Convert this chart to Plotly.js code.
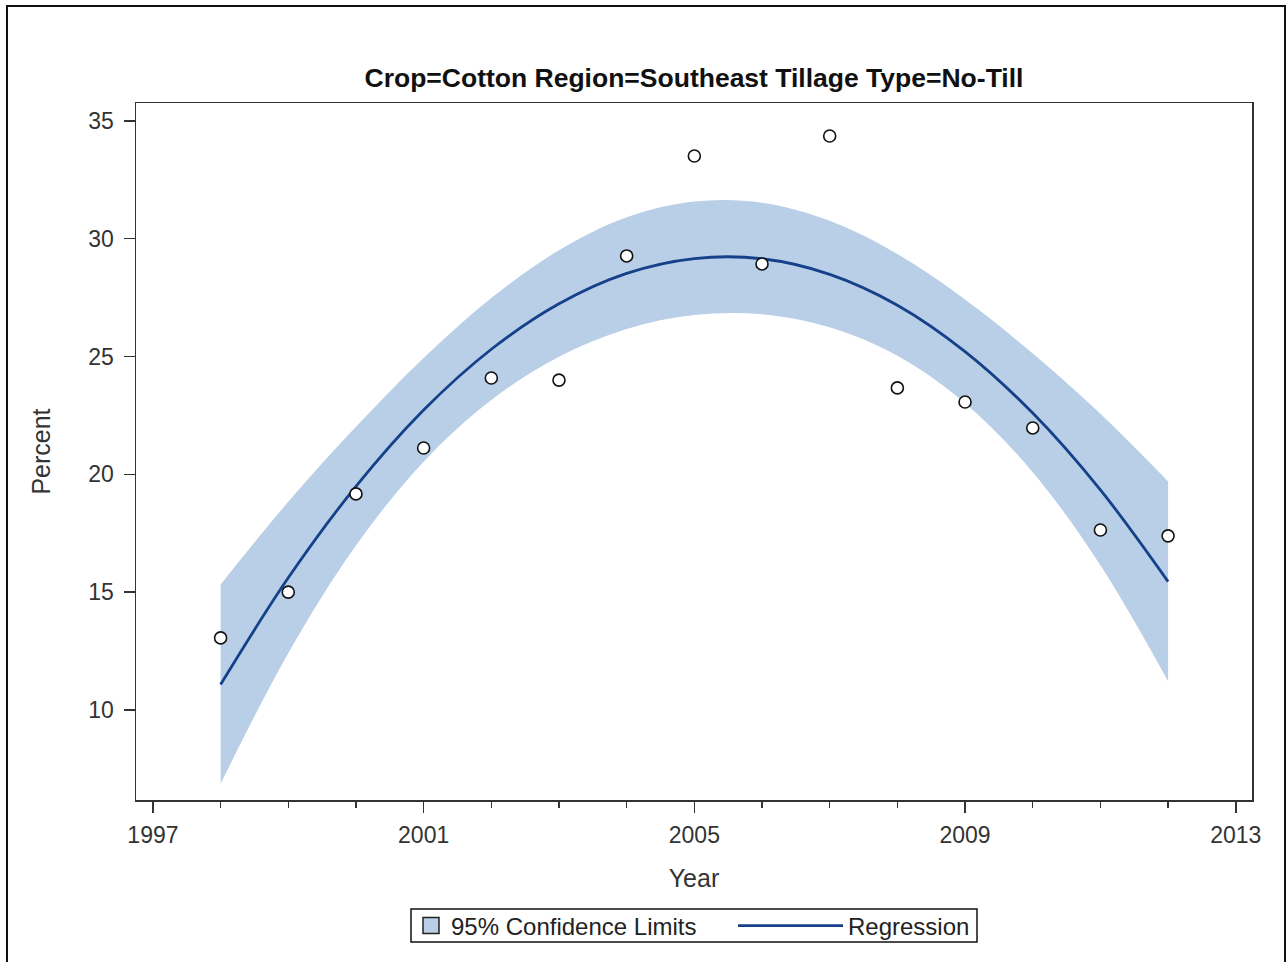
<!DOCTYPE html>
<html>
<head>
<meta charset="utf-8">
<script src="https://cdn.plot.ly/plotly-3.0.1.min.js"></script>
<style>
  html, body { margin: 0; padding: 0; background: #fff; }
  #chart { width: 1287px; height: 962px; position: relative; }
  #frame { position: absolute; left: 6px; top: 5px; width: 1276px; height: 1000px;
           border: 2px solid #111; border-bottom: none; pointer-events: none; }
</style>
</head>
<body>
<div id="chart"></div>
<div id="frame"></div>
<script>
// Observed data
const years = [1998, 1999, 2000, 2001, 2002, 2003, 2004, 2005, 2006, 2007, 2008, 2009, 2010, 2011, 2012];
const percent = [13.06, 15.0, 19.17, 21.12, 24.09, 24.0, 29.27, 33.51, 28.93, 34.36, 23.67, 23.07, 21.97, 17.64, 17.39];

// Regression curve and 95% confidence limits
const fitYears = [1998, 1999, 2000, 2001, 2002, 2003, 2004, 2005, 2006, 2007, 2008, 2009, 2010, 2011, 2012];
const fitValues = [11.08, 15.61, 19.49, 22.73, 25.31, 27.24, 28.53, 29.16, 29.15, 28.49, 27.18, 25.21, 22.60, 19.34, 15.45];
const upperCL = [15.33, 18.84, 22.02, 24.94, 27.48, 29.51, 30.91, 31.58, 31.53, 30.76, 29.35, 27.42, 25.13, 22.57, 19.70];
const lowerCL = [6.87, 12.41, 16.98, 20.54, 23.16, 24.99, 26.17, 26.76, 26.79, 26.24, 25.03, 23.02, 20.09, 16.14, 11.22];

const xTickVals = [1997, 2001, 2005, 2009, 2013];
const yTickVals = [10, 15, 20, 25, 30, 35];

const bandColor = '#b9cfe7';
const lineColor = '#15408a';
const fontFam = '"Liberation Sans", Arial, sans-serif';

const traces = [
  {
    x: fitYears, y: lowerCL, type: 'scatter', mode: 'lines',
    line: { width: 0, shape: 'spline', color: bandColor },
    showlegend: false, hoverinfo: 'skip'
  },
  {
    x: fitYears, y: upperCL, type: 'scatter', mode: 'lines',
    line: { width: 0, shape: 'spline', color: bandColor },
    fill: 'tonexty', fillcolor: bandColor,
    name: '95% Confidence Limits', showlegend: false, legendgroup: 'cl'
  },
  {
    // legend key only (no data): square swatch for the confidence band
    x: [null], y: [null], type: 'scatter', mode: 'markers',
    marker: { symbol: 'square', size: 16, color: bandColor, line: { color: '#222', width: 1.5 } },
    name: '95% Confidence Limits', showlegend: true, legendgroup: 'cl', legend: 'legend'
  },
  {
    x: fitYears, y: fitValues, type: 'scatter', mode: 'lines',
    line: { width: 2.8, shape: 'spline', color: lineColor },
    name: 'Regression', showlegend: true, legend: 'legend2'
  },
  {
    x: years, y: percent, type: 'scatter', mode: 'markers',
    marker: { symbol: 'circle', size: 12, color: '#ffffff', line: { color: '#111', width: 1.6 } },
    showlegend: false
  }
];

const legendCommon = {
  orientation: 'h', xref: 'paper',
  y: 1 - 926 / 962, yref: 'container', yanchor: 'middle',
  borderwidth: 0, bgcolor: 'rgba(0,0,0,0)',
  font: { family: fontFam, size: 24, color: '#222' }
};

const layout = {
  width: 1287, height: 962,
  paper_bgcolor: '#ffffff', plot_bgcolor: '#ffffff',
  margin: { l: 136, r: 35, t: 103, b: 162 },
  font: { family: fontFam, size: 23, color: '#333' },
  title: {
    text: '<b>Crop=Cotton Region=Southeast Tillage Type=No-Till</b>',
    font: { family: '"Liberation Sans Narrow", "Arial Narrow", "Liberation Sans", sans-serif', size: 26.5, color: '#111' },
    x: 0.5, xref: 'paper', xanchor: 'center',
    y: 1 - 78 / 962, yref: 'container', yanchor: 'middle'
  },
  xaxis: {
    range: [1996.75, 2013.24],
    tickmode: 'array', tickvals: xTickVals, ticktext: xTickVals.map(String),
    ticks: 'outside', ticklen: 11, tickwidth: 1.5, tickcolor: '#333', ticklabelstandoff: 3,
    minor: { dtick: 1, tick0: 1997, ticks: 'outside', ticklen: 6, tickwidth: 1.5, tickcolor: '#333', showgrid: false },
    showline: true, linecolor: '#333', linewidth: 1.5, mirror: true,
    showgrid: false, zeroline: false,
    tickfont: { family: fontFam, size: 23, color: '#333' },
    title: { text: 'Year', font: { family: fontFam, size: 25, color: '#333' }, standoff: 22 }
  },
  yaxis: {
    range: [6.18, 35.76],
    tickmode: 'array', tickvals: yTickVals, ticktext: yTickVals.map(String),
    ticks: 'outside', ticklen: 11, tickwidth: 1.5, tickcolor: '#333', ticklabelstandoff: 5,
    showline: true, linecolor: '#333', linewidth: 1.5, mirror: true,
    showgrid: false, zeroline: false,
    tickfont: { family: fontFam, size: 23, color: '#333' },
    title: { text: 'Percent', font: { family: fontFam, size: 25, color: '#333' }, standoff: 30 }
  },
  showlegend: true,
  legend: Object.assign({}, legendCommon, { x: (411 - 136) / 1116, xanchor: 'left', itemwidth: 30 }),
  legend2: Object.assign({}, legendCommon, { x: (975 - 136) / 1116, xanchor: 'right', itemwidth: 105 }),
  shapes: [{
    type: 'rect', xref: 'paper', yref: 'paper',
    x0: (411 - 136) / 1116, x1: (977 - 136) / 1116,
    y0: (800 - 909) / 697, y1: (800 - 942) / 697,
    line: { color: '#111', width: 1.5 }, fillcolor: 'rgba(0,0,0,0)', layer: 'above'
  }]
};

Plotly.newPlot('chart', traces, layout, { displayModeBar: false, staticPlot: true });
</script>
</body>
</html>
